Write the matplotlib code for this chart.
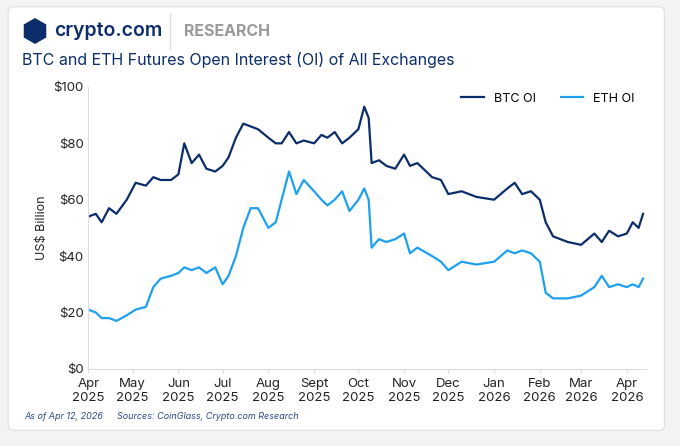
import numpy as np
import pandas as pd
import matplotlib.pyplot as plt
from matplotlib.patches import FancyBboxPatch, Polygon

plt.rcParams['font.family'] = ['Inter', 'DejaVu Sans']

dates = pd.to_datetime([
    "2025-04-01", "2025-04-06", "2025-04-10", "2025-04-15", "2025-04-20", "2025-04-27",
    "2025-05-03", "2025-05-10", "2025-05-15", "2025-05-20", "2025-05-27",
    "2025-06-01", "2025-06-05", "2025-06-10", "2025-06-15", "2025-06-20", "2025-06-26",
    "2025-07-01", "2025-07-05", "2025-07-10", "2025-07-15", "2025-07-20", "2025-07-25",
    "2025-08-01", "2025-08-06", "2025-08-10", "2025-08-15", "2025-08-20", "2025-08-25",
    "2025-09-01", "2025-09-06", "2025-09-10", "2025-09-15", "2025-09-20", "2025-09-25",
    "2025-10-01", "2025-10-05", "2025-10-08", "2025-10-10", "2025-10-15", "2025-10-20", "2025-10-26",
    "2025-11-01", "2025-11-05", "2025-11-10", "2025-11-20", "2025-11-26",
    "2025-12-01", "2025-12-10", "2025-12-20",
    "2026-01-01", "2026-01-10", "2026-01-15", "2026-01-20", "2026-01-26",
    "2026-02-01", "2026-02-05", "2026-02-10", "2026-02-20",
    "2026-03-01", "2026-03-10", "2026-03-15", "2026-03-20", "2026-03-26",
    "2026-04-01", "2026-04-05", "2026-04-09", "2026-04-12",
])
btc = [54, 55, 52, 57, 55, 60,
       66, 65, 68, 67, 67,
       69, 80, 73, 76, 71, 70,
       72, 75, 82, 87, 86, 85,
       82, 80, 80, 84, 80, 81,
       80, 83, 82, 84, 80, 82,
       85, 93, 89, 73, 74, 72, 71,
       76, 72, 73, 68, 67,
       62, 63, 61,
       60, 64, 66, 62, 63,
       60, 52, 47, 45,
       44, 48, 45, 49, 47,
       48, 52, 50, 55]
eth = [21, 20, 18, 18, 17, 19,
       21, 22, 29, 32, 33,
       34, 36, 35, 36, 34, 36,
       30, 33, 40, 50, 57, 57,
       50, 52, 60, 70, 62, 67,
       63, 60, 58, 60, 63, 56,
       60, 64, 60, 43, 46, 45, 46,
       48, 41, 43, 40, 38,
       35, 38, 37,
       38, 42, 41, 42, 41,
       38, 27, 25, 25,
       26, 29, 33, 29, 30,
       29, 30, 29, 32]

W, H = 680, 446
fig = plt.figure(figsize=(W / 100, H / 100), dpi=100)
fig.patch.set_facecolor('#f3f3f3')
card = FancyBboxPatch((0.012, 0.035), 0.965, 0.95, boxstyle="round,pad=0,rounding_size=0.01",
                      transform=fig.transFigure, facecolor='white', edgecolor='#dddddd', lw=0.8,
                      zorder=-10)
fig.patches.append(card)

# logo: hexagon in pixel units
cx, cy, r = 35, H - 31, 13
ang = np.deg2rad(np.arange(6) * 60 + 30)
hexpts = [((cx + r * np.cos(a)) / W, (cy + r * np.sin(a)) / H) for a in ang]
fig.patches.append(Polygon(hexpts, closed=True, transform=fig.transFigure,
                           facecolor='#0b2d6b', edgecolor='none'))
fig.text(0.08, 0.93, "crypto.com", fontsize=14, color='#0b2d6b', fontweight='semibold', va='center')
fig.add_artist(plt.Line2D([0.25, 0.25], [0.89, 0.97], color='#dddddd', lw=1, transform=fig.transFigure))
fig.text(0.27, 0.93, "RESEARCH", fontsize=11.5, color='#9a9a9a', fontweight='bold', va='center')
fig.text(0.032, 0.865, "BTC and ETH Futures Open Interest (OI) of All Exchanges",
         fontsize=11.5, color='#0b2d6b', va='center')

ax = fig.add_axes([0.13, 0.173, 0.82, 0.632])
ax.plot(dates, btc, color='#0b2d6b', lw=1.6, label='BTC OI')
ax.plot(dates, eth, color='#1ea0f0', lw=1.6, label='ETH OI')
ax.set_ylim(0, 100)
ax.set_xlim(pd.Timestamp("2025-04-01"), pd.Timestamp("2026-04-14"))
ax.set_yticks(range(0, 101, 20))
ax.set_yticklabels([f"${v}" for v in range(0, 101, 20)])
ticks = pd.date_range("2025-04-01", "2026-04-01", freq="MS")
ax.set_xticks(ticks)
ax.set_xticklabels([("Sept" if d.month == 9 else d.strftime("%b")) + "\n" + str(d.year) for d in ticks])
for s in ['top', 'right']:
    ax.spines[s].set_visible(False)
ax.spines['left'].set_color('#dddddd')
ax.spines['bottom'].set_color('#dddddd')
ax.tick_params(axis='both', labelsize=9.5, colors='#222222', length=3)
ax.tick_params(axis='y', length=0)
ax.tick_params(axis='x', color='#dddddd')
ax.set_ylabel("US$ Billion", fontsize=9, color='#222222')
ax.legend(loc='upper right', ncol=2, frameon=False, fontsize=9, handlelength=1.8,
          bbox_to_anchor=(1.0, 1.02))

fig.text(0.035, 0.06, "As of Apr 12, 2026", fontsize=6.5, style='italic', color='#2a4a8a')
fig.text(0.172, 0.06, "Sources: CoinGlass, Crypto.com Research", fontsize=6.5, style='italic', color='#2a4a8a')

fig.savefig("out.png", dpi=100, facecolor=fig.get_facecolor())
